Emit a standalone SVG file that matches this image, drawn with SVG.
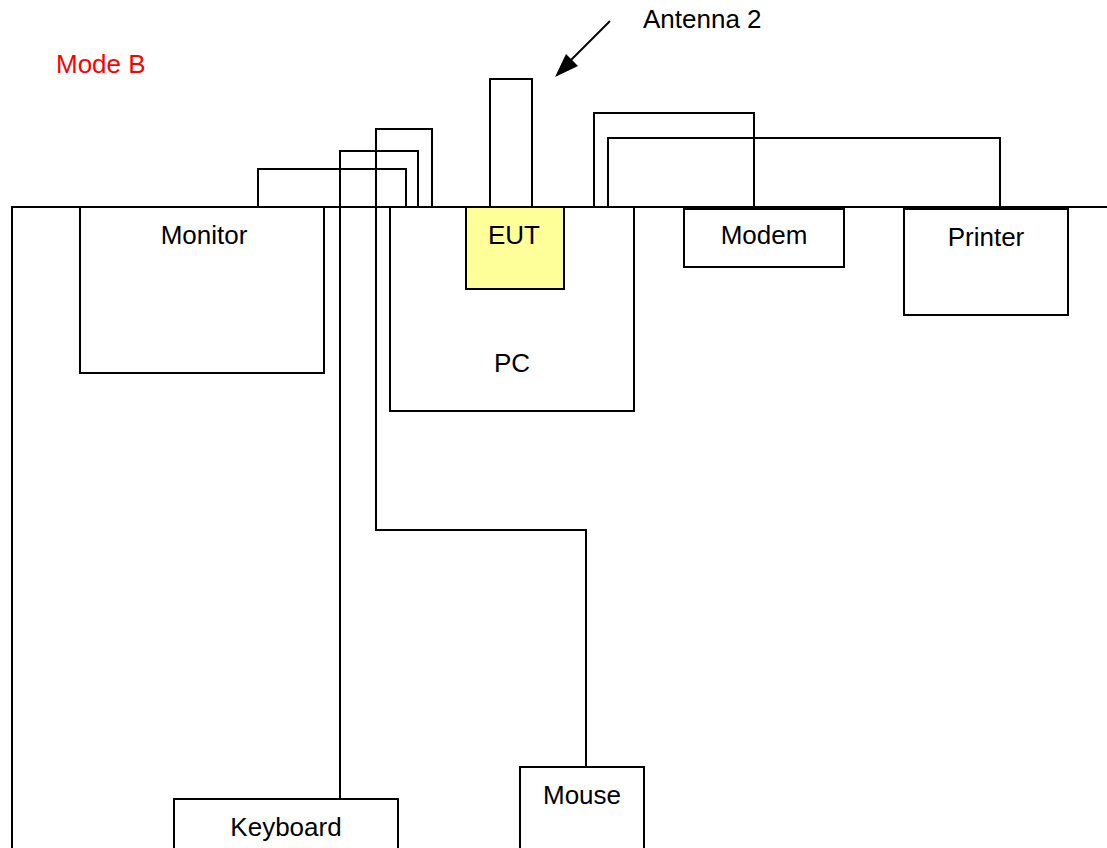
<svg xmlns="http://www.w3.org/2000/svg" width="1107" height="848" viewBox="0 0 1107 848">
<defs>
<style>
.ln{fill:none;stroke:#000;stroke-width:2}
.box{fill:#fff;stroke:#000;stroke-width:2}
.t{font-family:"Liberation Sans",Arial,sans-serif;font-size:26px;fill:#000;text-anchor:middle}
.l{font-family:"Liberation Sans",Arial,sans-serif;font-size:26px}
</style>
</defs>
<rect width="1107" height="848" fill="#fff"/>
<text class="l" x="56" y="73" fill="#ff0000">Mode B</text>
<g id="connectors">
<path class="ln" d="M12,848 V207 H1107"/>
<path class="ln" d="M258,207 V169 H406 V207"/>
<path class="ln" d="M340,799 V151 H418 V207"/>
<path class="ln" d="M586,767 V530 H376 V129 H432 V207"/>
<path class="ln" d="M594,207 V113 H754 V209"/>
<path class="ln" d="M608,209 V138 H1000 V209"/>
<path class="ln" d="M1000,208 H1040"/>
<path d="M610,21 L560,71" stroke="#000" stroke-width="2" fill="none"/>
<path d="M555,77 L566,54 L578,66 z" fill="#000"/>
</g>
<g id="monitor"><rect class="box" x="80" y="207" width="244" height="166"/><text class="t" x="204" y="244">Monitor</text></g>
<g id="pc"><rect class="box" x="390" y="207" width="244" height="204"/><text class="t" x="512" y="372">PC</text></g>
<g id="antenna"><rect class="box" x="490" y="79" width="42" height="128"/></g>
<g id="eut"><rect x="466" y="207" width="98" height="82" fill="#ffff99" stroke="#000" stroke-width="2"/><text class="t" x="514" y="244">EUT</text></g>
<g id="modem"><rect class="box" x="684" y="209" width="160" height="58"/><text class="t" x="764" y="244">Modem</text></g>
<g id="printer"><rect class="box" x="904" y="209" width="164" height="106"/><text class="t" x="986" y="246">Printer</text></g>
<g id="keyboard"><rect class="box" x="174" y="799" width="224" height="60"/><text class="t" x="286" y="836">Keyboard</text></g>
<g id="mouse"><rect class="box" x="520" y="767" width="124" height="90"/><text class="t" x="582" y="804">Mouse</text></g>
<text class="l" x="643" y="28" fill="#000">Antenna 2</text>
</svg>
